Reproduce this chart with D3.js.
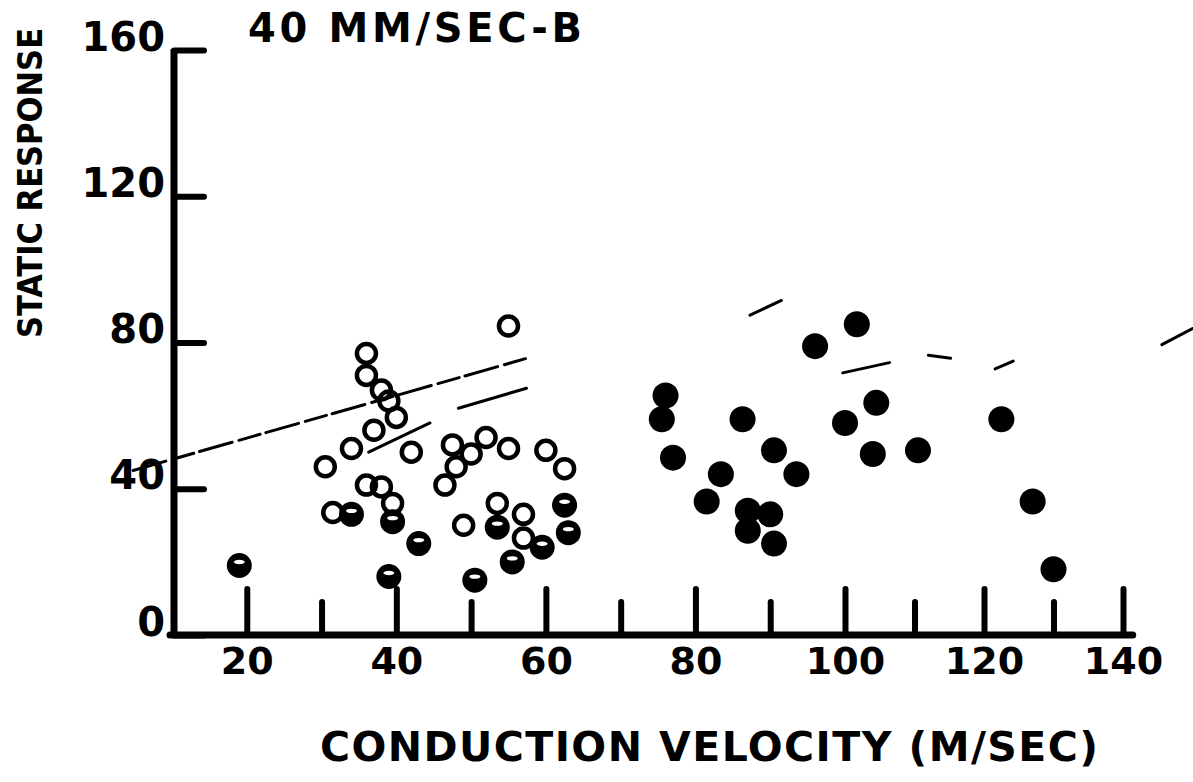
<!DOCTYPE html>
<html>
<head>
<meta charset="utf-8">
<script src="https://cdn.jsdelivr.net/npm/d3@7/dist/d3.min.js"></script>
<style>
  html, body { margin: 0; padding: 0; background: #fff; }
  svg { display: block; }
  text { font-family: "DejaVu Sans", sans-serif; font-weight: bold; fill: #000; }
</style>
</head>
<body>
<svg id="chart" width="1193" height="782"></svg>
<script>
// Conduction velocity (m/sec) vs static response, 40 mm/sec stretch, series B
const xMajorTicks = [20, 40, 60, 80, 100, 120, 140];
const xMinorTicks = [30, 50, 70, 90, 110, 130];
const yTicks = [0, 40, 80, 120, 160];

// open circles
const openPoints = [
  [55, 84.5], [36, 77], [36, 71], [38, 67], [39, 64], [40, 59.5], [37, 56],
  [34, 51], [30.5, 46], [42, 50], [47.5, 52], [50, 49.5], [52, 54], [55, 51],
  [48, 46], [46.5, 41], [60, 50.5], [62.5, 45.5], [36, 41], [38, 40.5],
  [39.5, 36], [31.5, 33.5], [49, 30], [53.5, 36], [57, 33], [57, 26.5]
];

// half-filled circles
const halfPoints = [
  [19, 19], [34, 33], [39.5, 31], [43, 25], [53.5, 29.5], [59.5, 24],
  [55.5, 20], [39, 16], [50.5, 15], [62.5, 35.5], [63, 28]
];

// filled circles
const filledPoints = [
  [101.7, 85], [96, 79], [76, 65.5], [75.5, 59], [86.3, 59], [77, 48.5],
  [90.5, 50.5], [83.4, 44], [93.5, 44], [81.5, 36.5], [87, 34], [90, 33],
  [87, 28.5], [90.5, 25], [104.5, 63.5], [100, 58], [104, 49.5],
  [110.5, 50.5], [122.5, 59], [127, 36.5], [130, 18]
];

// faint pen strokes of the fitted lines: [x1, y1, x2, y2]
const fitStrokes = [
  [4.8, 45, 58, 76],
  [87.3, 87.5, 91.5, 91.5],
  [36.3, 50, 44.5, 58],
  [48.3, 62, 57.4, 67.5],
  [99.7, 71.7, 106.4, 74.5],
  [112, 76.5, 115.2, 75.7],
  [121.6, 72.8, 124.2, 74.9],
  [145.6, 79.4, 150, 83.8]
];

const titleText = "40 MM/SEC-B";
const xTitle = "CONDUCTION VELOCITY (M/SEC)";
const yTitle = "STATIC RESPONSE";

const svg = d3.select("#chart");

const x = d3.scaleLinear().domain([10, 100, 140]).range([172, 845, 1123]);
const y = d3.scaleLinear().domain([0, 160]).range([635, 50]);

const axisX0 = 174;

// fitted line strokes
svg.append("g")
  .selectAll("line")
  .data(fitStrokes)
  .join("line")
  .attr("x1", d => x(d[0])).attr("y1", d => y(d[1]))
  .attr("x2", d => x(d[2])).attr("y2", d => y(d[3]))
  .attr("stroke", "#000")
  .attr("stroke-width", 3)
  .attr("stroke-dasharray", (d, i) => i === 0 ? "34 7 22 6" : null)
  .attr("stroke-linecap", "round");

// x axis: major ticks with labels, then minor ticks
const gx = svg.append("g").attr("transform", `translate(0,${y(0)})`);
gx.call(d3.axisBottom(x).tickValues(xMajorTicks).tickSize(-46).tickPadding(12).tickFormat(d3.format("d")));
gx.append("g").call(d3.axisBottom(x).tickValues(xMinorTicks).tickSize(-33).tickFormat(""));
gx.selectAll(".domain").remove();
gx.selectAll(".tick line").attr("stroke", "#000").attr("stroke-width", 6).attr("stroke-linecap", "round");
gx.selectAll(".tick text").attr("font-size", 38).attr("font-family", "DejaVu Sans").attr("font-weight", "bold");
gx.append("line")
  .attr("x1", x(10) - 2).attr("x2", x(141.4))
  .attr("y1", 0).attr("y2", 0)
  .attr("stroke", "#000").attr("stroke-width", 7).attr("stroke-linecap", "round");

// y axis: inward ticks with labels sitting on the tick
const gy = svg.append("g").attr("transform", `translate(${axisX0},0)`);
gy.call(d3.axisLeft(y).tickValues(yTicks).tickSize(-30).tickPadding(9).tickFormat(d3.format("d")));
gy.selectAll(".domain").remove();
gy.selectAll(".tick line").attr("stroke", "#000").attr("stroke-width", 6).attr("stroke-linecap", "round");
gy.selectAll(".tick text").attr("font-size", 40).attr("dy", "0em")
  .attr("font-family", "DejaVu Sans").attr("font-weight", "bold");
gy.append("line")
  .attr("x1", 0).attr("x2", 0)
  .attr("y1", y(160) - 1).attr("y2", y(0) + 3)
  .attr("stroke", "#000").attr("stroke-width", 7);

// open circles
svg.append("g")
  .selectAll("circle")
  .data(openPoints)
  .join("circle")
  .attr("cx", d => x(d[0])).attr("cy", d => y(d[1]))
  .attr("r", 9.5)
  .attr("fill", "none")
  .attr("stroke", "#000")
  .attr("stroke-width", 4.5);

// half-filled circles: solid disc with a pale slit on top
const half = svg.append("g").selectAll("g").data(halfPoints).join("g")
  .attr("transform", d => `translate(${x(d[0])},${y(d[1])})`);
half.append("circle").attr("r", 12.5).attr("fill", "#000");
half.append("ellipse").attr("cx", 0).attr("cy", -3.5).attr("rx", 5.5).attr("ry", 2.2).attr("fill", "#fff");

// filled circles
svg.append("g")
  .selectAll("circle")
  .data(filledPoints)
  .join("circle")
  .attr("cx", d => x(d[0])).attr("cy", d => y(d[1]))
  .attr("r", 13)
  .attr("fill", "#000");

// titles
svg.append("text")
  .attr("x", 248).attr("y", 42)
  .attr("font-size", 40)
  .attr("textLength", 334).attr("lengthAdjust", "spacing")
  .text(titleText);

svg.append("text")
  .attr("x", 320).attr("y", 761)
  .attr("font-size", 41)
  .attr("textLength", 778).attr("lengthAdjust", "spacing")
  .text(xTitle);

svg.append("text")
  .attr("transform", "translate(42,338) rotate(-90)")
  .style("font-family", "'DejaVu Sans Condensed', 'DejaVu Sans', sans-serif")
  .attr("font-size", 34)
  .text(yTitle);
</script>
</body>
</html>
